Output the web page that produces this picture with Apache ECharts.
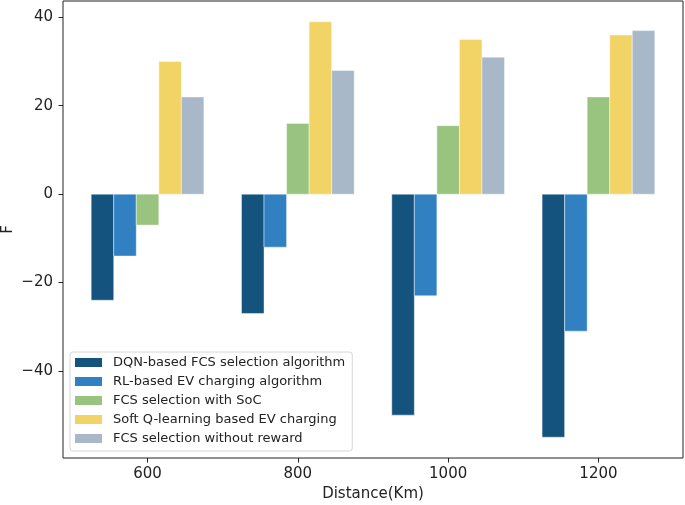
<!DOCTYPE html>
<html>
<head>
<meta charset="utf-8">
<script src="https://cdn.jsdelivr.net/npm/echarts@6/dist/echarts.min.js"></script>
<style>
html,body{margin:0;padding:0;background:#fff;}
#chart{width:685px;height:505px;}
</style>
</head>
<body>
<div id="chart"></div>
<script>
// ---- data ----
const distances = [600, 800, 1000, 1200];
const seriesNames = [
  'DQN-based FCS selection algorithm',
  'RL-based EV charging algorithm',
  'FCS selection with SoC',
  'Soft Q-learning based EV charging',
  'FCS selection without reward'
];
const dqnValues      = [-24, -27, -50, -55];
const rlValues       = [-14, -12, -23, -31];
const socValues      = [-7, 16, 15.5, 22];
const softQValues    = [30, 39, 35, 36];
const noRewardValues = [22, 28, 31, 37];
const xTicks = [600, 800, 1000, 1200];
const yTicks = [-40, -20, 0, 20, 40];

// ---- layout / style ----
const BAR_W = 30;                       // bar width in x-data units
const offsets = [-60, -30, 0, 30, 60];  // group offsets in x-data units
const colors = ['#15537F', '#3180C2', '#98C47F', '#F2D366', '#A9B8C8'];
const allValues = [dqnValues, rlValues, socValues, softQValues, noRewardValues];
const FONT = 'DejaVu Sans';

const vMin = Math.min(0, ...allValues.flat());
const vMax = Math.max(0, ...allValues.flat());
const vPad = (vMax - vMin) * 0.05;
const xLo = distances[0] + offsets[0] - BAR_W / 2;
const xHi = distances[distances.length - 1] + offsets[4] + BAR_W / 2;
const xPad = (xHi - xLo) * 0.05;

function renderBar(params, api) {
  const x = api.value(0), y = api.value(1);
  const p1 = api.coord([x - BAR_W / 2, Math.max(y, 0)]);
  const p2 = api.coord([x + BAR_W / 2, Math.min(y, 0)]);
  return {
    type: 'rect',
    shape: { x: p1[0], y: p1[1], width: p2[0] - p1[0], height: p2[1] - p1[1] },
    style: { fill: api.visual('color'), stroke: 'rgba(255,255,255,0.55)', lineWidth: 0.8 }
  };
}

const series = allValues.map((vals, s) => ({
  name: seriesNames[s],
  type: 'custom',
  renderItem: renderBar,
  itemStyle: { color: colors[s] },
  encode: { x: 0, y: 1 },
  data: distances.map((d, i) => [d + offsets[s], vals[i]])
}));

const chart = echarts.init(document.getElementById('chart'), null, { renderer: 'canvas' });
chart.setOption({
  animation: false,
  backgroundColor: '#ffffff',
  textStyle: { fontFamily: FONT },
  grid: {
    left: 63, top: 1, right: 2, bottom: 47,
    show: true, borderColor: '#222', borderWidth: 1,
    containLabel: false, outerBoundsMode: 'none'
  },
  legend: {
    orient: 'vertical',
    left: 70, top: 352,
    icon: 'rect',
    itemWidth: 27, itemHeight: 9, itemGap: 6,
    padding: [4, 7, 6, 5],
    backgroundColor: '#ffffff',
    borderColor: '#d6d6d6', borderWidth: 1, borderRadius: 3,
    textStyle: { fontFamily: FONT, fontSize: 13, color: '#222', lineHeight: 13, padding: [0, 0, 0, 6] },
    data: seriesNames
  },
  xAxis: {
    type: 'value',
    min: xLo - xPad, max: xHi + xPad,
    name: 'Distance(Km)', nameLocation: 'middle', nameGap: 29, nameMoveOverlap: false,
    nameTextStyle: { fontFamily: FONT, fontSize: 15, color: '#222' },
    axisLine: { show: false, onZero: false },
    splitLine: { show: false },
    axisTick: { show: true, length: 4.5, customValues: xTicks, lineStyle: { color: '#222', width: 1 } },
    axisLabel: {
      customValues: xTicks, margin: 9, fontFamily: FONT, fontSize: 15, color: '#222',
      formatter: v => String(v)
    }
  },
  yAxis: {
    type: 'value',
    min: vMin - vPad, max: vMax + vPad,
    name: 'F', nameLocation: 'middle', nameGap: 47, nameMoveOverlap: false,
    nameTextStyle: { fontFamily: FONT, fontSize: 15, color: '#222' },
    axisLine: { show: false, onZero: false },
    splitLine: { show: false },
    axisTick: { show: true, length: 4.5, customValues: yTicks, lineStyle: { color: '#222', width: 1 } },
    axisLabel: {
      customValues: yTicks, margin: 10, fontFamily: FONT, fontSize: 15, color: '#222',
      formatter: v => String(v).replace('-', '\u2212')
    }
  },
  series: series
});
</script>
</body>
</html>
